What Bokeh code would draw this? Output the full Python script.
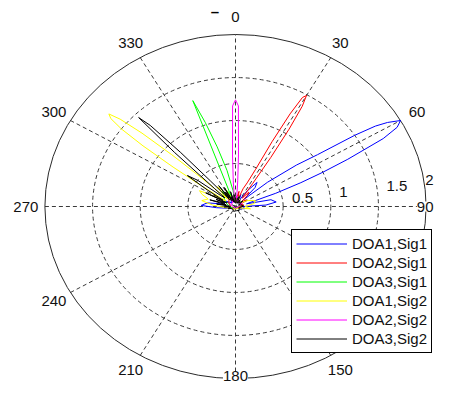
import numpy as np
from bokeh.plotting import figure
from bokeh.models import Range1d, Legend, LegendItem
from bokeh.core.properties import value
from bokeh.embed import file_html
from bokeh.resources import INLINE

# ---------------- data ----------------
series_names = ["DOA1,Sig1", "DOA2,Sig1", "DOA3,Sig1", "DOA1,Sig2", "DOA2,Sig2", "DOA3,Sig2"]
series_colors = ["#0000ff", "#ff0000", "#00ff00", "#ffff00", "#ff00ff", "#000000"]

doa1_sig1_theta = [0, 8, 15, 22, 28, 34, 39, 43, 47, 50, 53, 55, 56.5, 57.5, 58.5, 60, 61.5, 63, 65,
                   66.5, 68, 70, 72, 75, 78, 83, 87, 90, 105, 130, 180, 230, 255, 266, 272, 278, 284,
                   300, 315, 330, 345, 360]
doa1_sig1_r = [0.06, 0.12, 0.05, 0.15, 0.08, 0.22, 0.36, 0.3, 0.12, 0.44, 0.8, 1.05, 1.5, 1.74, 1.87,
               2.0, 1.93, 1.74, 1.3, 1.0, 0.74, 0.45, 0.2, 0.12, 0.38, 0.43, 0.32, 0.08, 0.1, 0.04,
               0.02, 0.04, 0.08, 0.2, 0.36, 0.3, 0.12, 0.14, 0.06, 0.1, 0.05, 0.06]

doa2_sig1_theta = [0, 6, 12, 17, 21, 24, 26, 27, 28, 29, 30, 31, 32, 33, 34, 36, 40, 44, 49, 56, 66,
                   80, 95, 130, 180, 220, 270, 300, 325, 340, 352, 360]
doa2_sig1_r = [0.05, 0.1, 0.18, 0.08, 0.22, 0.3, 0.48, 0.85, 1.22, 1.45, 1.49, 1.36, 1.06, 0.68, 0.32,
               0.12, 0.22, 0.18, 0.08, 0.14, 0.06, 0.09, 0.04, 0.03, 0.02, 0.04, 0.05, 0.08, 0.12,
               0.06, 0.1, 0.05]

doa3_sig1_theta = [0, 8, 18, 30, 50, 90, 150, 210, 260, 290, 310, 322, 330, 335, 338, 339, 340, 342,
                   344.5, 348, 352, 356, 360]
doa3_sig1_r = [0.1, 0.06, 0.12, 0.05, 0.08, 0.03, 0.02, 0.03, 0.05, 0.1, 0.16, 0.22, 0.12, 0.2, 0.12,
               0.1, 1.31, 1.03, 0.72, 0.43, 0.19, 0.08, 0.1]

doa1_sig2_theta = [0, 12, 25, 45, 62, 72, 80, 90, 100, 110, 150, 200, 245, 262, 274, 281, 287, 292,
                   296, 299, 303, 304, 305, 306, 307, 308, 309, 310, 311, 312, 313, 314, 316, 320,
                   324, 328, 333, 340, 350, 360]
doa1_sig2_r = [0.08, 0.05, 0.1, 0.06, 0.15, 0.22, 0.2, 0.1, 0.16, 0.05, 0.03, 0.03, 0.05, 0.1, 0.24,
               0.36, 0.3, 0.38, 0.42, 0.2, 0.12, 0.45, 0.8, 1.2, 1.5, 1.66, 1.71, 1.58, 1.3, 0.9,
               0.5, 0.2, 0.12, 0.3, 0.22, 0.1, 0.22, 0.08, 0.12, 0.08]

doa2_sig2_theta = [0, 1.5, 3, 4.5, 7, 9, 14, 22, 35, 60, 90, 180, 270, 300, 325, 338, 346, 351, 353,
                   355.5, 357, 358.5, 360]
doa2_sig2_r = [1.24, 1.17, 0.6, 0.3, 0.1, 0.12, 0.06, 0.1, 0.05, 0.08, 0.03, 0.02, 0.03, 0.06, 0.05,
               0.1, 0.06, 0.12, 0.1, 0.3, 0.6, 1.17, 1.24]

doa3_sig2_theta = [0, 6, 10, 15, 20, 26, 32, 40, 50, 60, 70, 80, 90, 110, 140, 170, 200, 230, 255, 262,
                   268, 273, 278, 282, 286, 289, 292, 295, 297, 299, 301, 303, 305.5, 307.5, 309.5,
                   312, 313.5, 314.5, 315.5, 316.5, 317.5, 318.5, 320, 322, 324, 326, 328, 330, 332,
                   335, 337, 340, 343, 347, 350, 353, 356, 360]
doa3_sig2_r = [0.1, 0.04, 0.06, 0.11, 0.12, 0.04, 0.09, 0.05, 0.1, 0.04, 0.05, 0.08, 0.08, 0.04, 0.06,
               0.05, 0.06, 0.04, 0.08, 0.05, 0.12, 0.06, 0.2, 0.1, 0.28, 0.12, 0.22, 0.1, 0.35, 0.15,
               0.2, 0.35, 0.62, 0.5, 0.2, 0.15, 0.3, 0.9, 1.45, 1.3, 0.85, 0.4, 0.18, 0.1, 0.3, 0.12,
               0.2, 0.08, 0.25, 0.1, 0.12, 0.06, 0.18, 0.05, 0.08, 0.14, 0.12, 0.1]

series_theta = [doa1_sig1_theta, doa2_sig1_theta, doa3_sig1_theta,
                doa1_sig2_theta, doa2_sig2_theta, doa3_sig2_theta]
series_r = [doa1_sig1_r, doa2_sig1_r, doa3_sig1_r, doa1_sig2_r, doa2_sig2_r, doa3_sig2_r]

ring_values = [0.5, 1.0, 1.5, 2.0]
ring_labels = ["0.5", "1", "1.5", "2"]
spoke_angles = [0, 30, 60, 90, 120, 150]
angle_ticks = [0, 30, 60, 90, 150, 180, 210, 240, 270, 300, 330]
angle_labels = ["0", "30", "60", "90", "150", "180", "210", "240", "270", "300", "330"]
r_max = 2.0

# ---------------- layout ----------------
W, H = 434, 385
CX, CY = 235.0, 206.0       # centre in canvas px
SX, SY = 95.3, 86.0         # px per unit
X0, X1 = -CX / SX, (W - CX) / SX
Y0, Y1 = -(H - CY) / SY, CY / SY
FONT_NAME = "Liberation Sans"
FONT = value(FONT_NAME)
TXT = "#111111"
GRID = "#3a3a3a"

p = figure(width=W, height=H,
           x_range=Range1d(X0, X1), y_range=Range1d(Y0, Y1),
           output_backend="svg", toolbar_location=None,
           x_axis_type=None, y_axis_type=None, min_border=0,
           outline_line_color=None, background_fill_color="white",
           border_fill_color="white")

# rings
for rv in ring_values[:-1]:
    p.ellipse(x=0, y=0, width=2 * rv, height=2 * rv, fill_color=None,
              line_color=GRID, line_width=1, line_dash="4 3")
# spokes
sa = np.radians(spoke_angles)
p.segment(x0=-r_max * np.sin(sa), y0=-r_max * np.cos(sa),
          x1=r_max * np.sin(sa), y1=r_max * np.cos(sa),
          line_color=GRID, line_width=1, line_dash="4 3")
# outer circle
p.ellipse(x=0, y=0, width=2 * r_max, height=2 * r_max, fill_color=None,
          line_color="#2a2a2a", line_width=1)

# data
renderers = []
for th, rr, col in zip(series_theta, series_r, series_colors):
    t = np.radians(np.array(th, dtype=float))
    r = np.array(rr, dtype=float)
    renderers.append(p.line(r * np.sin(t), r * np.cos(t), line_color=col, line_width=1))

# angle labels (the two that would fall outside the canvas are pulled inside)
at = np.radians(angle_ticks)
ax = 1.1 * r_max * np.sin(at)
ay = 1.1 * r_max * np.cos(at)
inner_x, inner_y, inner_t = [], [], []
edge_x, edge_y, edge_t, edge_a, edge_b = [], [], [], [], []
for i, lab in enumerate(angle_labels):
    if lab == "90":
        edge_x.append(X1 - 0.01); edge_y.append(ay[i]); edge_t.append(lab)
        edge_a.append("right"); edge_b.append("middle")
    elif lab == "180":
        edge_x.append(ax[i]); edge_y.append(Y0 + 0.05); edge_t.append(lab)
        edge_a.append("center"); edge_b.append("bottom")
    else:
        inner_x.append(ax[i]); inner_y.append(ay[i]); inner_t.append(lab)
p.text(x=inner_x, y=inner_y, text=inner_t, text_align="center", text_baseline="middle",
       text_font=FONT, text_font_size="15px", text_color=TXT)

# ring labels
rv = np.array(ring_values)
rl_x = list((rv + 0.1) * np.cos(np.radians(8)))
rl_y = list((rv + 0.1) * np.sin(np.radians(8)) + 0.02)
rl_a = ["left"] * len(ring_labels)
rl_x[-1] = X1 - 0.01
rl_a[-1] = "right"
p.text(x=rl_x, y=rl_y, text=ring_labels, text_align=rl_a, text_baseline="alphabetic",
       text_font=FONT, text_font_size="15px", text_color=TXT)

# small dash mark at the top
p.text(x=[-0.215], y=[2.267], text=["\u2013"], text_align="center", text_baseline="middle",
       text_font=FONT, text_font_size="15px", text_font_style="bold", text_color="#000000")

legend = Legend(items=[LegendItem(label=n, renderers=[r]) for n, r in zip(series_names, renderers)],
                location=(291, 32), orientation="vertical",
                border_line_color="#000000", border_line_width=1, border_line_alpha=1,
                background_fill_color="white", background_fill_alpha=1,
                label_text_font=FONT_NAME, label_text_font_size="15px", label_text_color=TXT,
                glyph_width=51, glyph_height=19, label_height=19, spacing=0,
                padding=4, margin=0, label_standoff=5)
p.add_layout(legend)

# edge labels drawn last, on a white ground so the circle does not cross them
p.text(x=edge_x, y=edge_y, text=edge_t, text_align=edge_a, text_baseline=edge_b,
       text_font=FONT, text_font_size="15px", text_color=TXT,
       background_fill_color="white", background_fill_alpha=1.0)

open("out.html", "w").write(file_html(p, INLINE))
